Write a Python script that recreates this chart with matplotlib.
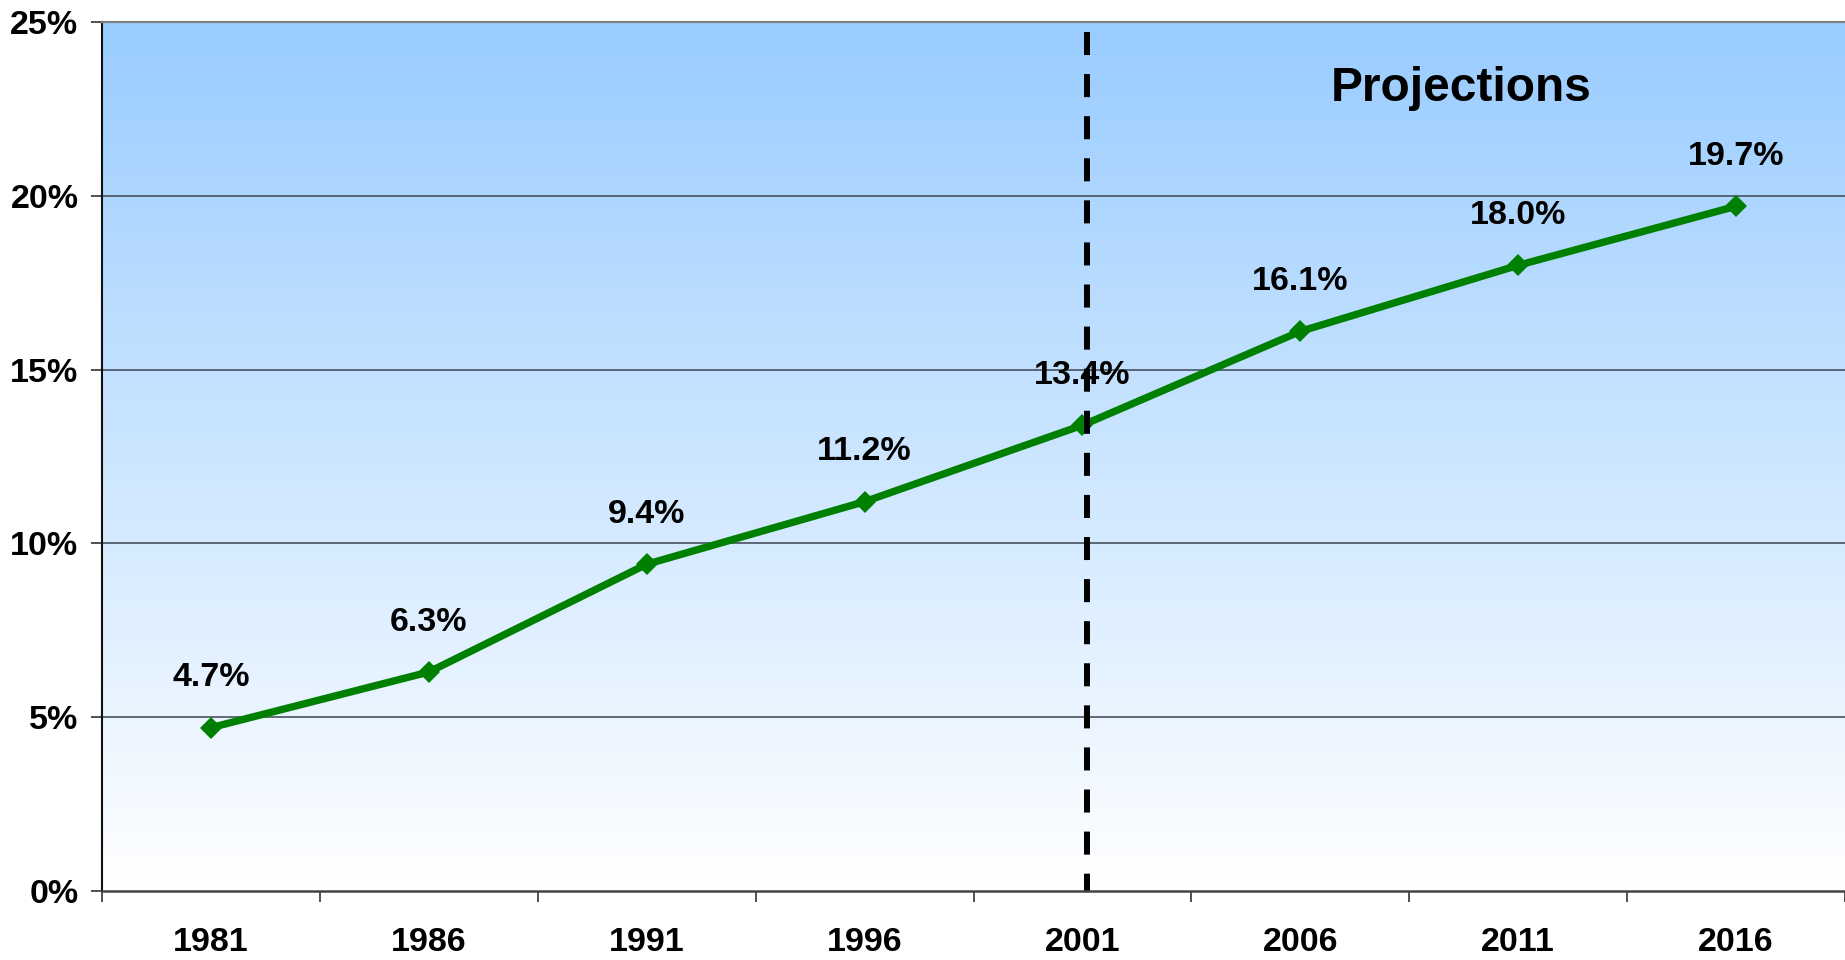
import numpy as np
import matplotlib
matplotlib.use("Agg")
import matplotlib.pyplot as plt
from matplotlib.colors import LinearSegmentedColormap
from matplotlib.ticker import FixedLocator, NullFormatter

plt.rcParams['font.family'] = ['Liberation Sans', 'DejaVu Sans']
plt.rcParams['font.weight'] = 'bold'

# Census years and share of population (%)
years = ["1981", "1986", "1991", "1996", "2001", "2006", "2011", "2016"]
share = [4.7, 6.3, 9.4, 11.2, 13.4, 16.1, 18.0, 19.7]
y_ticks = [0, 5, 10, 15, 20, 25]
y_tick_labels = ["0%", "5%", "10%", "15%", "20%", "25%"]
projection_start = "2001"
projection_label = "Projections"

W, H, DPI = 1845, 960, 100
fig = plt.figure(figsize=(W / DPI, H / DPI), dpi=DPI)
fig.patch.set_facecolor("white")
ax = fig.add_axes([102 / W, 1 - 891 / H, 1 - 102 / W, (891 - 22) / H])

n = len(years)
x = np.arange(n)
ax.set_xlim(-0.5, n - 0.5)
ax.set_ylim(0, 25)

# vertical gradient background: light blue at top fading to white
grad_cmap = LinearSegmentedColormap.from_list("bg", ["#FFFFFF", "#99CCFF"])
grad = np.linspace(0, 1, 256).reshape(-1, 1)
ax.imshow(grad, cmap=grad_cmap, aspect="auto", origin="lower",
          extent=[0, 1, 0, 1], transform=ax.transAxes, zorder=0)

# horizontal gridlines
for yv in y_ticks[1:-1]:
    ax.axhline(yv, color="#3C4650", lw=1.1, zorder=1)

# main series
ax.plot(x, share, color="#008000", lw=5.3, marker="D", markersize=11,
        markeredgewidth=0, zorder=3, solid_joinstyle="miter")

# data labels
for xi, v in zip(x, share):
    ax.annotate(f"{v:.1f}%", xy=(xi, v), xytext=(0, 36),
                textcoords="offset points", ha="center", va="center",
                fontsize=24.5, fontweight="bold", color="black", zorder=5)

# projection divider, dashed from the top down
xp = years.index(projection_start) + 0.02
lw_div = 4.3
ax.plot([xp, xp], [24.7, 0], color="black", lw=lw_div,
        dashes=(16.6 / lw_div, 13.7 / lw_div), dash_capstyle="butt", zorder=4)
ax.text(5.74, 23.1, projection_label, ha="center", va="center",
        fontsize=34.5, fontweight="bold", color="black", zorder=5)

# axes styling
ax.spines["right"].set_visible(False)
ax.spines["top"].set_color("#808080")
ax.spines["top"].set_linewidth(1.6)
ax.spines["left"].set_color("#111111")
ax.spines["left"].set_linewidth(1.5)
ax.spines["bottom"].set_color("#444444")
ax.spines["bottom"].set_linewidth(1.8)
for s in ax.spines.values():
    s.set_zorder(6)

ax.set_yticks(y_ticks)
ax.set_yticklabels(y_tick_labels, fontsize=24.5, fontweight="bold")
ax.tick_params(axis="y", length=8, width=1.2, color="#333333", pad=9)

# category boundaries carry tick marks, centers carry the labels
ax.xaxis.set_major_locator(FixedLocator(np.arange(-0.5, n, 1.0)))
ax.xaxis.set_major_formatter(NullFormatter())
ax.xaxis.set_minor_locator(FixedLocator(x))
ax.set_xticklabels(years, minor=True, fontsize=24.5, fontweight="bold")
ax.tick_params(axis="x", which="major", length=8, width=1.2, color="#333333")
ax.tick_params(axis="x", which="minor", length=0, pad=26)

fig.savefig("out.png", dpi=DPI, facecolor="white")
